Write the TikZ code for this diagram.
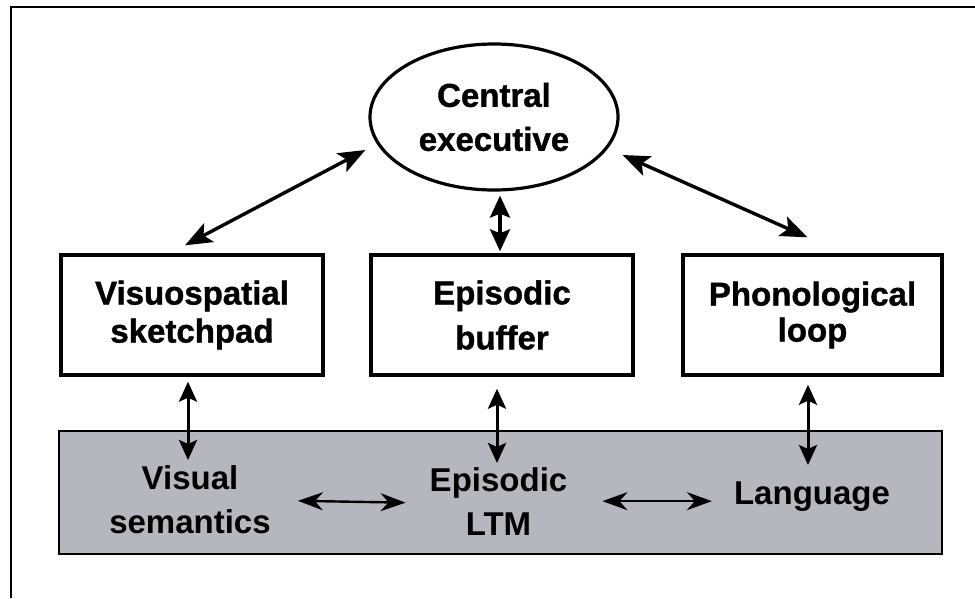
\documentclass[tikz,border=0pt]{standalone}
\usepackage{fontspec}
\setmainfont{Liberation Sans}
\newfontfamily\heavyfont[UprightFont={* Bold},FakeBold=1.2]{Liberation Sans}
\usetikzlibrary{arrows.meta,shapes.geometric}
\definecolor{ltmgray}{RGB}{182,182,190}
\begin{document}
\begin{tikzpicture}[x=1pt,y=-1pt,
  compbox/.style={draw,line width=3.4pt,minimum width=262pt,minimum height=120pt,
    inner sep=0pt,align=center},
  boxfont/.style={font=\fontsize{33}{#1}\selectfont\heavyfont},
  lbl/.style={align=center,inner sep=0pt,anchor=north,
    font=\fontsize{33}{44}\selectfont\bfseries},
  diag/.style={line width=3.4pt,
    {Stealth[length=27pt,width=21pt,inset=6pt]}-{Stealth[length=27pt,width=21pt,inset=6pt]}},
  vertshort/.style={line width=3.4pt,
    {Stealth[length=22pt,width=20pt,inset=4pt]}-{Stealth[length=22pt,width=20pt,inset=4pt]}},
  vert/.style={line width=3pt,
    {Stealth[length=20pt,width=18pt,inset=4pt]}-{Stealth[length=20pt,width=18pt,inset=4pt]}},
  horiz/.style={line width=2.4pt,
    {Stealth[length=25pt,width=18pt,inset=8pt]}-{Stealth[length=25pt,width=18pt,inset=8pt]}}
]
\useasboundingbox (0,0) rectangle (975,598);

% frame lines along the left and top
\draw[line width=2.2pt] (11,598) -- (11,7) -- (975,7);

% central executive
\node[ellipse,draw,line width=3.2pt,minimum width=248pt,minimum height=146pt,
  inner sep=0pt,align=center,boxfont=44] (ce) at (494,117) {Central\\executive};

% slave systems
\node[compbox,boxfont=38] (vs) at (192,315) {Visuospatial\\sketchpad};
\node[compbox,boxfont=45] (eb) at (502,315) {Episodic\\buffer};
\node[compbox,boxfont=36,minimum width=259pt] (pl) at (812.5,315) {Phonological\\loop};

% long-term memory band
\node[draw,fill=ltmgray,line width=2.2pt,minimum width=883pt,minimum height=123pt,
  inner sep=0pt] (ltm) at (500.5,492.5) {};
\node[lbl] (vsem) at (190,465) {Visual\\semantics};
\node[lbl] (eltm) at (498.5,467) {Episodic\\LTM};
\node[lbl] (lang) at (812,482) {Language};

% executive to slave systems
\draw[diag] ([shift={(-7,-8)}]vs.north) -- ([shift={(-3,33)}]ce.west);
\draw[diag] ([shift={(3,38)}]ce.east) -- ([shift={(-5,-16)}]pl.north);
\draw[vertshort] ([shift={(-2,4)}]eb.north |- ce.south) -- ([shift={(-2,-2)}]eb.north);

% slave systems to long-term memory
\draw[vert] ([shift={(-4,5)}]vs.south) -- ([shift={(-4,-5)}]vs.south |- vsem.north);
\draw[vert] ([shift={(-5,12)}]eb.south) -- ([shift={(-5,-4)}]eb.south |- eltm.north);
\draw[vert] ([shift={(-4.5,8)}]pl.south) -- ([shift={(-4.5,-17)}]pl.south |- lang.north);

% links inside long-term memory
\draw[horiz] ([shift={(27,1.5)}]vsem.east) -- ([shift={(-24,1.5)}]eltm.west);
\draw[horiz] ([xshift=35pt]eltm.east) -- ([xshift=-22pt]lang.west |- eltm.east);
\end{tikzpicture}
\end{document}
